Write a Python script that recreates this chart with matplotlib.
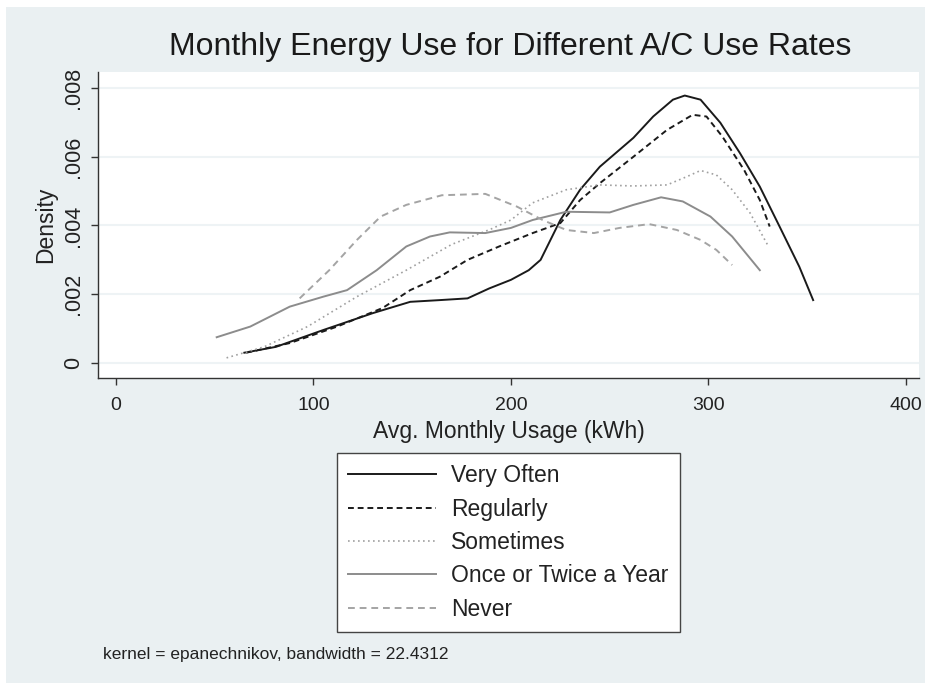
import matplotlib
matplotlib.use("Agg")
import matplotlib.pyplot as plt
from matplotlib.patches import Rectangle

plt.rcParams['font.family'] = ['Liberation Sans', 'DejaVu Sans']

# values (kWh, density)
very_often_x = [65, 81, 105, 130, 149, 164, 178, 189, 200, 209, 215, 225, 235, 245, 262, 272, 282, 288, 296, 306, 316, 326, 336, 346, 353]
very_often_y = [0.00030, 0.00047, 0.00096, 0.00145, 0.00178, 0.00183, 0.00188, 0.00217, 0.00242, 0.0027, 0.0030, 0.00416,
                0.00504, 0.00571, 0.00655, 0.00717, 0.00766, 0.00778, 0.00766, 0.00699, 0.0061, 0.00513, 0.00397, 0.0028, 0.00183]

regularly_x = [66, 88, 112, 135, 149, 164, 178, 194, 211, 225, 235, 245, 262, 279, 292, 299, 307, 318, 326, 331]
regularly_y = [0.0003, 0.00058, 0.00106, 0.0016, 0.00212, 0.00251, 0.0030, 0.00339, 0.00378, 0.00407, 0.00474, 0.00523,
               0.0060, 0.00678, 0.00722, 0.00717, 0.00659, 0.00562, 0.00474, 0.00397]

sometimes_x = [56, 75, 97, 122, 147, 170, 190, 200, 211, 228, 245, 262, 279, 289, 296, 304, 312, 321, 330]
sometimes_y = [0.00015, 0.00047, 0.00106, 0.00193, 0.0027, 0.00345, 0.0039, 0.00416, 0.00466, 0.00504, 0.00518, 0.00515,
               0.00518, 0.00542, 0.0056, 0.00547, 0.00504, 0.00437, 0.00343]

once_x = [51, 68, 88, 105, 117, 132, 147, 159, 169, 187, 200, 211, 228, 250, 262, 276, 287, 301, 312, 326]
once_y = [0.00075, 0.00106, 0.00164, 0.00193, 0.00212, 0.0027, 0.00339, 0.00368, 0.0038, 0.00378, 0.00393, 0.00416,
          0.0044, 0.00438, 0.0046, 0.00482, 0.0047, 0.00426, 0.00368, 0.0027]

never_x = [93, 108, 122, 134, 147, 165, 187, 203, 216, 228, 242, 255, 270, 284, 296, 304, 312]
never_y = [0.00188, 0.0027, 0.00358, 0.00426, 0.0046, 0.00488, 0.00492, 0.00455, 0.00416, 0.00387, 0.00378, 0.00393,
           0.00404, 0.00387, 0.00358, 0.00329, 0.00285]

x_ticks = [0, 100, 200, 300, 400]
y_ticks = [0, 0.002, 0.004, 0.006, 0.008]
y_ticklabels = ['0', '.002', '.004', '.006', '.008']

W, H = 928, 685
fig = plt.figure(figsize=(W / 100, H / 100), dpi=100, facecolor='white')
fig.patches.append(Rectangle((6 / W, 2 / H), 919 / W, 676 / H, transform=fig.transFigure,
                             facecolor='#eaf0f2', edgecolor='none', zorder=-10))

ax = fig.add_axes([98 / W, 1 - 378 / H, 821 / W, 306 / H])
ax.set_facecolor('white')

ax.plot(very_often_x, very_often_y, color='#1a1a1a', lw=1.4, label='Very Often')
ax.plot(regularly_x, regularly_y, color='#1a1a1a', lw=1.4, ls=(0, (3, 2)), label='Regularly')
ax.plot(sometimes_x, sometimes_y, color='#a0a0a0', lw=1.2, ls=(0, (1, 2)), label='Sometimes')
ax.plot(once_x, once_y, color='#8c8c8c', lw=1.4, label='Once or Twice a Year')
ax.plot(never_x, never_y, color='#a4a4a4', lw=1.4, ls=(0, (3.5, 2.5)), label='Never')

ax.set_xlim(-9.1, 406.6)
ax.set_ylim(-0.000436, 0.008465)
ax.set_xticks(x_ticks)
ax.set_yticks(y_ticks)
ax.set_yticklabels(y_ticklabels, rotation=90, va='center')
ax.grid(axis='y', color='#eef3f5', lw=1.5)
ax.set_axisbelow(True)

for s in ['top', 'right']:
    ax.spines[s].set_visible(False)
for s in ['left', 'bottom']:
    ax.spines[s].set_color('#333333')
    ax.spines[s].set_linewidth(1.0)
ax.tick_params(direction='out', length=5, width=1, color='#333333', labelcolor='#222222')
ax.tick_params(axis='x', labelsize=14, pad=9)
ax.tick_params(axis='y', labelsize=15.5, pad=5)

ax.set_xlabel('Avg. Monthly Usage (kWh)', fontsize=16.5, color='#222222', labelpad=4)
ax.set_ylabel('Density', fontsize=16.5, color='#222222', labelpad=4)

fig.text(510 / W, 1 - 47 / H, 'Monthly Energy Use for Different A/C Use Rates', ha='center', va='center',
         fontsize=23, color='#1a1a1a')

leg = fig.legend(loc='upper center', bbox_to_anchor=(508.5 / W, 1 - 453 / H), borderaxespad=0,
                 fontsize=16.5, ncol=1, handlelength=3.85, handletextpad=0.65, labelspacing=0.45,
                 borderpad=0.5, fancybox=False, edgecolor='#444444', framealpha=1)
leg.get_frame().set_linewidth(1.0)
for t in leg.get_texts():
    t.set_color('#222222')

fig.text(103 / W, 1 - 655 / H, 'kernel = epanechnikov, bandwidth = 22.4312', ha='left', va='center',
         fontsize=12.5, color='#222222')

fig.savefig('out.png', dpi=100, facecolor='white')
